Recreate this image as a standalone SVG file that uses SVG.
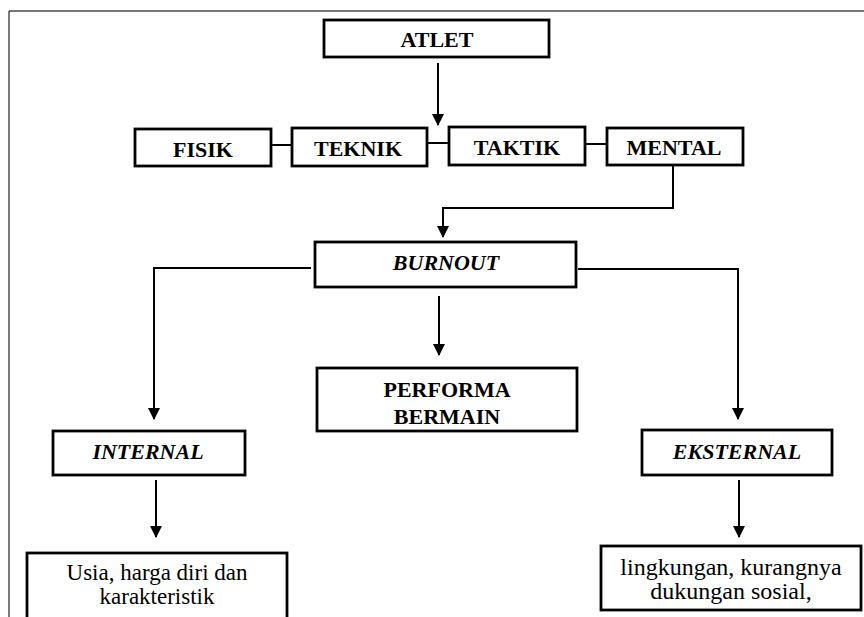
<svg xmlns="http://www.w3.org/2000/svg" width="864" height="617" viewBox="0 0 864 617">
<defs>
<marker id="ah" markerUnits="userSpaceOnUse" markerWidth="12" markerHeight="14" refX="11" refY="6" orient="auto">
<path d="M0,0 L12,6 L0,12 Z" fill="#000"/>
</marker>
<style>
.box{fill:#fff;stroke:#000;stroke-width:2.8}
.ln{fill:none;stroke:#000;stroke-width:2}
.arr{fill:none;stroke:#000;stroke-width:2;marker-end:url(#ah)}
.t{font-size:22px;font-weight:bold}
.ti{font-size:22px;font-weight:bold;font-style:italic}
.tr{font-size:23px}
.tr2{font-size:24px}
</style>
</defs>
<rect width="864" height="617" fill="#fff"/>
<g id="frame">
<line x1="9" y1="11" x2="864" y2="11" stroke="#777" stroke-width="2"/>
<line x1="9" y1="11" x2="9" y2="617" stroke="#222" stroke-width="1.2"/>
</g>
<g id="connectors">
<line class="ln" x1="271" y1="145" x2="292" y2="145"/>
<line class="ln" x1="427" y1="143" x2="449" y2="143"/>
<line class="ln" x1="585" y1="144" x2="607" y2="144"/>
<path class="arr" d="M438,63 V125"/>
<path class="arr" d="M673,166 V208 H443 V237"/>
<path class="arr" d="M311,268 H154 V419"/>
<path class="arr" d="M578,269 H738 V419"/>
<path class="arr" d="M439,296 V355"/>
<path class="arr" d="M156,480 V537"/>
<path class="arr" d="M739,480 V537"/>
</g>
<g font-family="Liberation Serif, Tinos, Times New Roman, DejaVu Serif, serif" fill="#000" text-anchor="middle">
<g id="atlet">
<rect class="box" x="324" y="20" width="225" height="37"/>
<text class="t" x="437" y="47">ATLET</text>
</g>
<g id="fisik">
<rect class="box" x="135" y="129" width="136" height="37"/>
<text class="t" x="203" y="157">FISIK</text>
</g>
<g id="teknik">
<rect class="box" x="292" y="128" width="135" height="38"/>
<text class="t" x="358" y="156">TEKNIK</text>
</g>
<g id="taktik">
<rect class="box" x="449" y="127" width="136" height="38"/>
<text class="t" x="517" y="155">TAKTIK</text>
</g>
<g id="mental">
<rect class="box" x="607" y="128" width="136" height="37"/>
<text class="t" x="674" y="155">MENTAL</text>
</g>
<g id="burnout">
<rect class="box" x="315" y="242" width="261" height="45"/>
<text class="ti" x="446" y="270">BURNOUT</text>
</g>
<g id="performa">
<rect class="box" x="317" y="368" width="260" height="63"/>
<text class="t" x="447" y="397">PERFORMA</text>
<text class="t" x="447" y="424">BERMAIN</text>
</g>
<g id="internal">
<rect class="box" x="53" y="431" width="192" height="44"/>
<text class="ti" x="148" y="459">INTERNAL</text>
</g>
<g id="eksternal">
<rect class="box" x="642" y="430" width="190" height="45"/>
<text class="ti" x="737" y="459">EKSTERNAL</text>
</g>
<g id="usia">
<rect class="box" x="27" y="553" width="260" height="80"/>
<text class="tr" x="157" y="580">Usia, harga diri dan</text>
<text class="tr" x="157" y="604">karakteristik</text>
</g>
<g id="lingkungan">
<rect class="box" x="601" y="546" width="260" height="64"/>
<text class="tr2" x="731" y="575">lingkungan, kurangnya</text>
<text class="tr2" x="731" y="599">dukungan sosial,</text>
</g>
</g>
</svg>
